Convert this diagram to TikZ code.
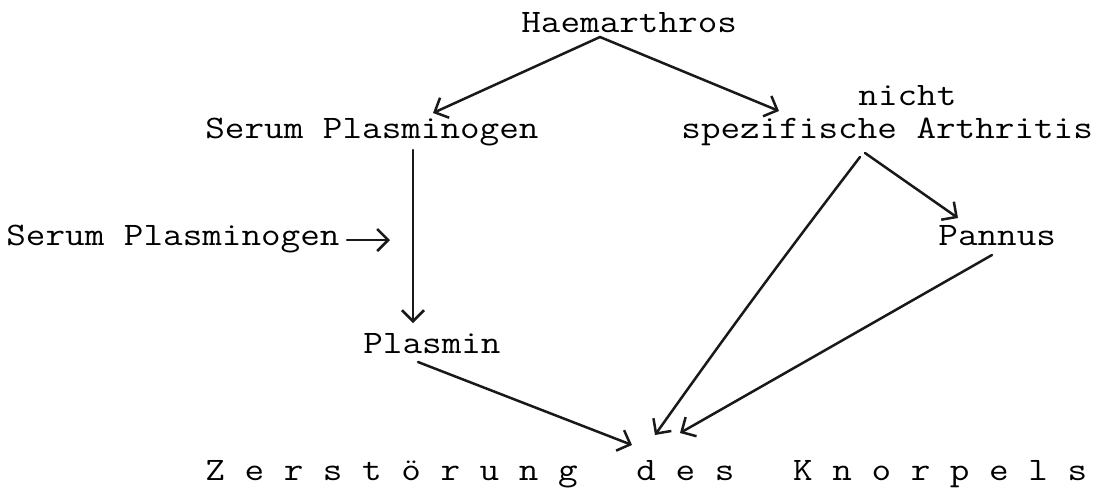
\documentclass[tikz,border=0pt]{standalone}
\usepackage{fontspec}
\usepackage{graphicx}
\usetikzlibrary{arrows.meta,calc}

% typewriter lettering, slightly widened
\newcommand\tw[1]{\scalebox{1.16}[1]{#1}}

\tikzset{
  label/.style={font=\fontsize{16.4}{18}\selectfont\ttfamily, text=black,
                inner sep=0pt, anchor=base west},
  arr/.style={line width=1.25pt, black!90, line cap=round,
              -{Straight Barb[length=5.5pt,width=11pt,line width=1.25pt]}}
}

\begin{document}
\begin{tikzpicture}[x=0.5pt,y=-0.5pt]
  \useasboundingbox (0,0) rectangle (1099,489);

  % terms
  \node[label] (haem)    at (521,32)  {\tw{Haemarthros}};
  \node[label] (sp1)     at (205,138) {\tw{Serum Plasminogen}};
  \node[label] (nicht)   at (858,105) {\tw{nicht}};
  \node[label] (spez)    at (681,138) {\tw{spezifische Arthritis}};
  \node[label] (sp2)     at (6,245)   {\tw{Serum Plasminogen}};
  \node[label] (pannus)  at (938,245) {\tw{Pannus}};
  \node[label] (plasmin) at (363,353) {\tw{Plasmin}};
  \node[label] (zer)     at (205,480) {\tw{Z~e~r~s~t~ö~r~u~n~g~~~d~e~s~~~K~n~o~r~p~e~l~s}};

  % free end of the side input arrow
  \coordinate (sp2end) at ($(sp2.base west)+(384,-5)$);

  % connectors
  \draw[arr] ($(haem.base west)+(79,5)$)    -- ($(sp1.base west)+(228,-25)$);
  \draw[arr] ($(haem.base west)+(79,5)$)    -- ($(spez.base west)+(98,-27)$);
  \draw[arr] ($(sp1.base west)+(208,12)$)   -- ($(plasmin.base west)+(50,-30)$);
  \draw[arr] ($(sp2.base west)+(341,-5)$)   -- (sp2end);
  \draw[arr] ($(plasmin.base west)+(55,9)$) -- ($(zer.base west)+(427,-35)$);
  \draw[arr] ($(spez.base west)+(179,19)$)  to[bend right=1] ($(zer.base west)+(450,-45)$);
  \draw[arr] ($(spez.base west)+(184,15)$)  -- ($(pannus.base west)+(20,-27)$);
  \draw[arr] ($(pannus.base west)+(54,10)$) -- ($(zer.base west)+(475,-47)$);
\end{tikzpicture}
\end{document}
